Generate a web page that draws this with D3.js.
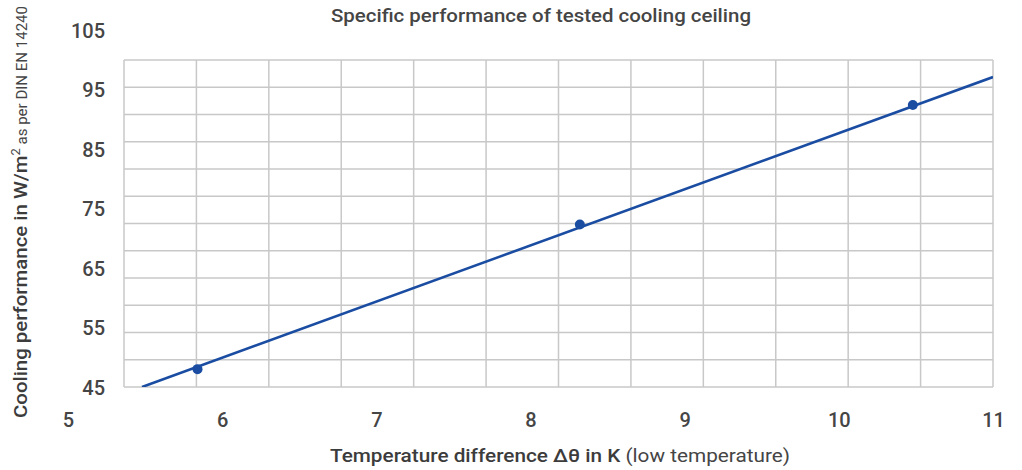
<!DOCTYPE html>
<html>
<head>
<meta charset="utf-8">
<title>Specific performance of tested cooling ceiling</title>
<script src="https://cdn.jsdelivr.net/npm/d3@7"></script>
<style>
  body { margin: 0; background: #fff; }
  text { font-family: Roboto, "Liberation Sans", Arial, sans-serif; fill: #454545; }
</style>
</head>
<body>
<svg width="1022" height="470"></svg>
<script>

// axis labels
const xTicks = [5, 6, 7, 8, 9, 10, 11];
const yTicks = [45, 55, 65, 75, 85, 95, 105];

// measured points (temperature difference in K, cooling performance in W/m2)
const measuredDT = [5.84, 8.32, 10.48];
const measuredQ = [48.0, 72.3, 92.4];

// characteristic line through the measurements
const fitDT = [5.48, 11];
const fitQ = [45, 97.1];

// the grid is drawn as a 12 x 12 panel
const gridCols = 12;
const gridRows = 12;

const plot = { left: 124, right: 993, top: 60, bottom: 387 };
const font = 'Roboto, "Liberation Sans", Arial, sans-serif';

let svg = d3.select('svg');

let x = d3.scaleLinear().domain([5, 11]).range([68, 993]);
let y = d3.scaleLinear().domain([45, 105]).range([387, 30]);

let gx = d3.scaleLinear().domain([0, gridCols]).range([plot.left, plot.right]);
let gy = d3.scaleLinear().domain([0, gridRows]).range([plot.bottom, plot.top]);

// grid
let grid = svg.append('g');
grid.selectAll('.v').data(d3.range(gridCols + 1)).join('line')
  .attr('x1', d => gx(d)).attr('x2', d => gx(d))
  .attr('y1', plot.top).attr('y2', plot.bottom)
  .style('stroke', '#c8c8c8').style('stroke-width', 1.5);
grid.selectAll('.h').data(d3.range(gridRows + 1)).join('line')
  .attr('x1', plot.left).attr('x2', plot.right)
  .attr('y1', d => gy(d)).attr('y2', d => gy(d))
  .style('stroke', '#c8c8c8').style('stroke-width', 1.5);

// axes (labels only)
let xAxis = svg.append('g').attr('transform', 'translate(0,' + 420 + ')')
  .call(d3.axisBottom(x).tickValues(xTicks).tickFormat(d3.format('d')).tickSize(0).tickPadding(0));
xAxis.select('.domain').remove();
xAxis.selectAll('text')
  .attr('y', 0).attr('dy', '0.35em')
  .style('font-size', '20px').style('font-weight', 500).style('fill', '#454545')
  .style('font-family', font);

let yAxis = svg.append('g').attr('transform', 'translate(105,0)')
  .call(d3.axisLeft(y).tickValues(yTicks).tickFormat(d3.format('d')).tickSize(0).tickPadding(0));
yAxis.select('.domain').remove();
yAxis.selectAll('text')
  .attr('x', 0).attr('dy', '0.35em')
  .style('font-size', '20px').style('font-weight', 500).style('fill', '#454545')
  .style('font-family', font);

// line + points
svg.append('clipPath').attr('id', 'clip').append('rect')
  .attr('x', plot.left).attr('y', plot.top)
  .attr('width', plot.right - plot.left).attr('height', plot.bottom - plot.top);

let line = d3.line().x(d => x(d[0])).y(d => y(d[1]));
svg.append('path')
  .datum(d3.zip(fitDT, fitQ))
  .attr('clip-path', 'url(#clip)')
  .attr('d', line)
  .style('fill', 'none').style('stroke', '#1a4da2').style('stroke-width', 2.6);

svg.selectAll('circle').data(d3.zip(measuredDT, measuredQ)).join('circle')
  .attr('cx', d => x(d[0])).attr('cy', d => y(d[1])).attr('r', 5)
  .style('fill', '#1a4da2');

// titles
svg.append('text')
  .attr('x', 541).attr('y', 22)
  .attr('text-anchor', 'middle')
  .attr('textLength', 420).attr('lengthAdjust', 'spacingAndGlyphs')
  .style('font-size', '18px').style('font-weight', 500)
  .text('Specific performance of tested cooling ceiling');

let xt = svg.append('text')
  .attr('x', 560).attr('y', 462)
  .attr('text-anchor', 'middle')
  .attr('textLength', 460).attr('lengthAdjust', 'spacingAndGlyphs')
  .style('font-size', '19px');
xt.append('tspan').style('font-weight', 500).style('fill', '#3c3c3c').text('Temperature difference Δθ in K');
xt.append('tspan').style('font-weight', 400).text(' (low temperature)');

let yt = svg.append('text')
  .attr('transform', 'translate(27,212) rotate(-90)')
  .attr('text-anchor', 'middle')
  .attr('textLength', 412).attr('lengthAdjust', 'spacingAndGlyphs')
  .style('font-size', '19px');
yt.append('tspan').style('font-weight', 500).style('fill', '#3c3c3c').text('Cooling performance in W/m');
yt.append('tspan').attr('dy', -7).style('font-size', '12px').text('2');
yt.append('tspan').attr('dy', 7).style('font-size', '14px').style('font-weight', 400).text(' as per DIN EN 14240');

</script>
</body>
</html>
